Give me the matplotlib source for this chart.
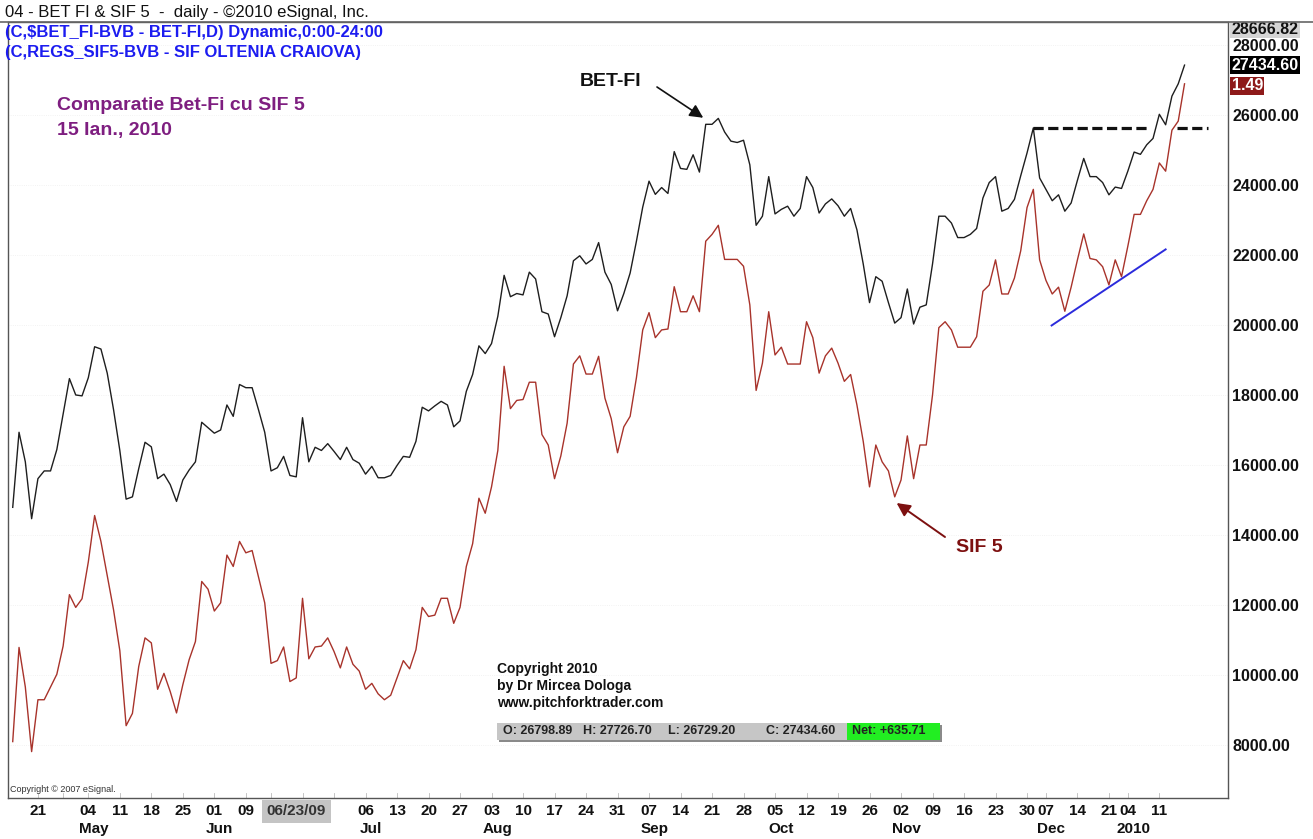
import numpy as np
import pandas as pd
import matplotlib
matplotlib.use("Agg")
import matplotlib.pyplot as plt
import matplotlib.transforms as mtransforms
from matplotlib.lines import Line2D
from matplotlib.patches import Rectangle

plt.rcParams['font.family'] = ['Liberation Sans', 'DejaVu Sans']

# BVB trading calendar, 14 Apr 2009 - 15 Jan 2010
holidays = ['2009-04-20', '2009-05-01', '2009-06-08', '2009-12-01', '2009-12-02',
            '2009-12-24', '2009-12-25', '2009-12-28', '2009-12-29', '2009-12-30',
            '2009-12-31', '2010-01-01']
dates = pd.bdate_range('2009-04-14', '2010-01-15')
dates = dates[~dates.isin(pd.to_datetime(holidays))]

# week starts that eSignal leaves unlabeled (or hides under the cursor box)
unlabeled_weeks = ['2009-04-27', '2009-06-15', '2009-06-22', '2009-06-29']

# daily closes, BET-FI
bet_fi = [14797, 16942, 16097, 14472, 15616, 15837, 15837, 16448, 17462, 18476,
          18008, 17982, 18502, 19386, 19321, 18632, 17592, 16422, 15031, 15096,
          15902, 16656, 16526, 15616, 15746, 15447, 14966, 15577, 15863, 16097,
          17228, 17072, 16916, 17007, 17722, 17397, 18307, 18216, 18216, 17592,
          16942, 15837, 15928, 16253, 15707, 15668, 17358, 16097, 16513, 16422,
          16617, 16396, 16162, 16513, 16162, 16058, 15746, 15967, 15642, 15642,
          15707, 15993, 16253, 16227, 16682, 17657, 17553, 17696, 17826, 17722,
          17098, 17267, 18112, 18593, 19412, 19191, 19477, 20257, 21427, 20816,
          20907, 20868, 21518, 21323, 20387, 20322, 19672, 20218, 20842, 21843,
          21986, 21752, 21882, 22363, 21518, 21167, 20413, 20907, 21492, 22402,
          23377, 24118, 23741, 23936, 23767, 24963, 24482, 24456, 24872, 24378,
          25743, 25743, 25912, 25522, 25262, 25223, 25288, 24586, 22857, 23117,
          24248, 23182, 23312, 23403, 23117, 23338, 24248, 23936, 23208, 23468,
          23611, 23416, 23117, 23338, 22727, 21752, 20647, 21388, 21258, 20647,
          20062, 20218, 21037, 20036, 20517, 20582, 21752, 23117, 23117, 22922,
          22506, 22506, 22597, 22766, 23637, 24079, 24248, 23260, 23338, 23598,
          24274, 24924, 25639, 24209, 23884, 23559, 23728, 23260, 23494, 24144,
          24768, 24248, 24248, 24079, 23728, 23949, 23910, 24404, 24950, 24885,
          25158, 25340, 26029, 25730, 26549, 26900, 27434.6]

# SIF 5 overlay, drawn in the BET-FI price scale
sif5 = [8102, 10793, 9662, 7816, 9298, 9298, 9662, 10026, 10832, 12301,
        11937, 12184, 13237, 14563, 13822, 12847, 11872, 10702, 8557, 8908,
        10247, 11066, 10923, 9597, 10052, 9532, 8921, 9727, 10442, 10962,
        12678, 12457, 11833, 12067, 13432, 13107, 13822, 13497, 13562, 12808,
        12067, 10338, 10416, 10806, 9818, 9922, 12197, 10468, 10806, 10832,
        11066, 10676, 10208, 10806, 10312, 10117, 9597, 9766, 9467, 9298,
        9428, 9922, 10416, 10182, 10728, 11937, 11677, 11716, 12197, 12197,
        11482, 11937, 13107, 13757, 15057, 14628, 15382, 16422, 18827, 17618,
        17852, 17878, 18372, 18372, 16877, 16578, 15616, 16266, 17202, 18892,
        19126, 18606, 18606, 19113, 17917, 17332, 16357, 17098, 17397, 18502,
        19867, 20361, 19646, 19867, 19893, 21102, 20387, 20387, 20842, 20387,
        22402, 22597, 22857, 21882, 21882, 21882, 21687, 20582, 18138, 18918,
        20387, 19152, 19373, 18892, 18892, 18892, 20101, 19646, 18632, 19126,
        19347, 18918, 18398, 18593, 17722, 16682, 15382, 16578, 16097, 15837,
        15096, 15577, 16838, 15616, 16578, 16578, 18008, 19932, 20101, 19867,
        19373, 19373, 19373, 19672, 20972, 21150, 21869, 20894, 20894, 21349,
        22129, 23364, 23884, 21869, 21284, 20894, 21089, 20400, 21089, 21869,
        22610, 21908, 21869, 21674, 21154, 21869, 21388, 22259, 23169, 23169,
        23559, 23884, 24638, 24404, 25574, 25834, 26900]

sif5_last = "1.49"
y_ticks = list(range(8000, 28001, 2000))
y_top = 28666.82
ohlc_text = ["O: 26798.89", "H: 27726.70", "L: 26729.20", "C: 27434.60"]
net_text = "Net: +635.71"

# drawn studies: resistance from the 30 Nov high, rising support on SIF 5
res_level = 25650
res_segments = [(162, 180), (184.8, 189.7)]
support_x = [164.9, 183.0]
support_y = [19994, 22168]

W, H = 1313, 839


def px(x, y):
    return x / W, 1 - y / H


fig = plt.figure(figsize=(W / 100, H / 100), dpi=100)
ax = fig.add_axes([8 / W, 41 / H, 1220 / W, 776 / H])

x = np.arange(len(dates))
ax.plot(x, bet_fi, color='#1e1e1e', lw=1.0, zorder=3)
ax.plot(x, sif5, color='#a8332b', lw=1.0, zorder=3)

for a, b in res_segments:
    ax.plot([a, b], [res_level, res_level], color='#111111', lw=2.3,
            dashes=(3.2, 1.4), zorder=4)
ax.plot(support_x, support_y, color='#2b2bdc', lw=1.4, zorder=4)

ax.set_xlim(-0.75, 192.9)
ax.set_ylim(6490, y_top)

# right price axis
ax.yaxis.tick_right()
ax.set_yticks(y_ticks)
ax.set_yticklabels(['{:.2f}'.format(v) for v in y_ticks])
ax.tick_params(axis='y', length=0, pad=3, labelsize=11.5, labelcolor='#111111')
for lbl in ax.get_yticklabels():
    lbl.set_fontweight('bold')
ax.set_xticks([])
for v in y_ticks:
    ax.axhline(v, color='#eeeeee', lw=0.6, ls=':', zorder=1)
for s in ax.spines.values():
    s.set_color('#555555')
    s.set_linewidth(1.0)

yb = mtransforms.blended_transform_factory(ax.transAxes, ax.transData)
ax.text(1.003, y_top, '{:.2f}'.format(y_top), transform=yb, ha='left', va='top',
        fontsize=11.5, fontweight='bold', color='#111111', zorder=6, clip_on=False,
        bbox=dict(facecolor='#d4d4d4', edgecolor='none', pad=1.0))
ax.text(1.003, bet_fi[-1], '{:.2f}'.format(bet_fi[-1]), transform=yb, ha='left',
        va='center', fontsize=11.5, fontweight='bold', color='white', zorder=6,
        clip_on=False, bbox=dict(facecolor='black', edgecolor='none', pad=1.0))
ax.text(1.003, sif5[-1] - 60, sif5_last, transform=yb, ha='left', va='center',
        fontsize=11.5, fontweight='bold', color='white', zorder=6, clip_on=False,
        bbox=dict(facecolor='#8e1a1a', edgecolor='none', pad=1.0))

# weekly date labels
skip = pd.to_datetime(unlabeled_weeks)
week_idx = [i for i in range(1, len(dates))
            if dates[i].isocalendar()[1] != dates[i - 1].isocalendar()[1]]
xb = mtransforms.blended_transform_factory(ax.transData, ax.transAxes)
prev_month = dates[0].month
for i in week_idx:
    d = dates[i]
    ax.plot([i, i], [0, 0.006], transform=xb, color='#bbbbbb', lw=0.6,
            clip_on=False)
    if d not in skip:
        ax.annotate(d.strftime('%d'), xy=(i, 0), xycoords=('data', 'axes fraction'),
                    xytext=(0, -9.5), textcoords='offset points', ha='center',
                    va='center', fontsize=11, fontweight='bold', color='#111111',
                    annotation_clip=False)
    if d.month != prev_month:
        mlab = str(d.year) if d.month == 1 else d.strftime('%b')
        ax.annotate(mlab, xy=(i, 0), xycoords=('data', 'axes fraction'),
                    xytext=(4, -22.5), textcoords='offset points', ha='center',
                    va='center', fontsize=11, fontweight='bold', color='#111111',
                    annotation_clip=False)
    prev_month = d.month

# cursor date box
cur = list(dates).index(pd.Timestamp('2009-06-23'))
ax.annotate('06/23/09', xy=(cur, 0), xycoords=('data', 'axes fraction'),
            xytext=(-9, -9.5), textcoords='offset points', ha='center', va='center',
            fontsize=11, fontweight='bold', color='#333333', zorder=10,
            annotation_clip=False,
            bbox=dict(boxstyle='square,pad=0.3', facecolor='#c4c4c4', edgecolor='none'))

# header texts
fig.add_artist(Line2D([0, 1], [1 - 22 / H, 1 - 22 / H], color='#666666', lw=1.2))
fig.text(*px(5, 12), '04 - BET FI & SIF 5  -  daily - \u00a92010 eSignal, Inc.',
         fontsize=12, va='center', ha='left', color='#111111')
fig.text(*px(5, 33), '(C,$BET_FI-BVB - BET-FI,D) Dynamic,0:00-24:00',
         fontsize=12, fontweight='bold', va='center', ha='left', color='#1c1cf0')
fig.text(*px(5, 52), '(C,REGS_SIF5-BVB - SIF OLTENIA CRAIOVA)',
         fontsize=12, fontweight='bold', va='center', ha='left', color='#1c1cf0')

fig.text(*px(57, 105), 'Comparatie Bet-Fi cu SIF 5', fontsize=14,
         fontweight='bold', va='center', ha='left', color='#7e1e80')
fig.text(*px(57, 131), '15 Ian., 2010', fontsize=14, fontweight='bold',
         va='center', ha='left', color='#7e1e80')

# labels with arrows
fig.text(*px(580, 82), 'BET-FI', fontsize=14, fontweight='bold', va='center',
         ha='left', color='#111111')
ax.annotate('', xy=(109.6, 25930), xytext=(657, H - 87), textcoords='figure pixels',
            arrowprops=dict(arrowstyle='-|>', color='#111111', lw=1.2,
                            mutation_scale=20, shrinkA=0, shrinkB=0))
fig.text(*px(956, 548), 'SIF 5', fontsize=14, fontweight='bold', va='center',
         ha='left', color='#7d1010')
ax.annotate('', xy=(140.3, 14920), xytext=(945, H - 537), textcoords='figure pixels',
            arrowprops=dict(arrowstyle='-|>', color='#7d1010', lw=1.4,
                            mutation_scale=20, shrinkA=0, shrinkB=0))

# copyright block
for k, line in enumerate(['Copyright 2010', 'by Dr Mircea Dologa',
                          'www.pitchforktrader.com']):
    fig.text(*px(497, 669 + 17 * k), line, fontsize=10, fontweight='bold',
             va='center', ha='left', color='#111111')

fig.add_artist(Rectangle(px(499, 742), 443 / W, 17 / H, transform=fig.transFigure,
                         facecolor='#8a8a8a', edgecolor='none'))
fig.add_artist(Rectangle(px(497, 740), 443 / W, 17 / H, transform=fig.transFigure,
                         facecolor='#c6c6c6', edgecolor='none'))
fig.add_artist(Rectangle(px(847, 740), 93 / W, 17 / H, transform=fig.transFigure,
                         facecolor='#22ee22', edgecolor='none'))
for xpos, t in zip([503, 583, 668, 766], ohlc_text):
    fig.text(*px(xpos, 731), t, fontsize=9, fontweight='bold', va='center',
             ha='left', color='#222222')
fig.text(*px(852, 731), net_text, fontsize=9, fontweight='bold', va='center',
         ha='left', color='#222222')

fig.text(*px(10, 789), 'Copyright \u00a9 2007 eSignal.', fontsize=6.5,
         va='center', ha='left', color='#333333')

fig.savefig('out.png', dpi=100, facecolor='white')
